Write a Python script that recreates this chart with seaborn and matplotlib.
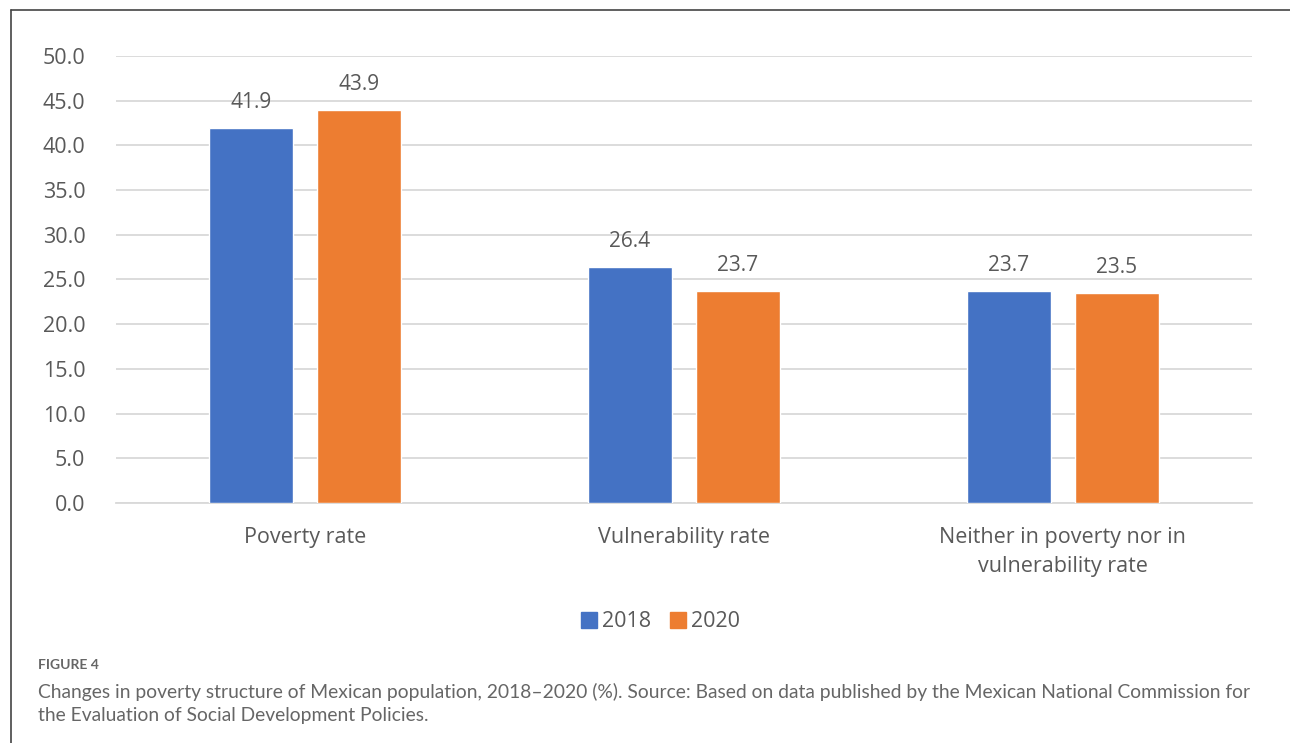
import seaborn as sns
import matplotlib.pyplot as plt
import pandas as pd
from matplotlib.lines import Line2D

categories = ["Poverty rate", "Vulnerability rate", "Neither in poverty nor in\nvulnerability rate"]
years = ["2018", "2020"]
values_2018 = [41.9, 26.4, 23.7]
values_2020 = [43.9, 23.7, 23.5]
yticks = [0, 5, 10, 15, 20, 25, 30, 35, 40, 45, 50]

df = pd.DataFrame({
    "category": categories * 2,
    "year": [years[0]] * 3 + [years[1]] * 3,
    "value": values_2018 + values_2020,
})

sns.set_style("white")
plt.rcParams["font.family"] = ["Open Sans", "DejaVu Sans"]

text_grey = "#595959"
fig = plt.figure(figsize=(12.9, 7.43), dpi=100)
ax = fig.add_axes([0.0899, 0.323, 0.8806, 0.6017])

sns.barplot(data=df, x="category", y="value", hue="year",
            palette=["#4472C4", "#ED7D31"], width=0.57, gap=0.222,
            saturation=1, ax=ax, zorder=3, legend=False)

for c in ax.containers:
    ax.bar_label(c, fmt="%.1f", padding=11, fontsize=15, color=text_grey)

ax.set_ylim(0, 50)
ax.set_xlim(-0.5, 2.5)
ax.set_yticks(yticks)
ax.set_yticklabels([f"{v:.1f}" for v in yticks])
ax.yaxis.grid(True, color="#D9D9D9", linewidth=1.3, zorder=0)
ax.set_xlabel("")
ax.set_ylabel("")
for s in ["top", "right", "left"]:
    ax.spines[s].set_visible(False)
ax.spines["bottom"].set_color("#D9D9D9")
ax.spines["bottom"].set_linewidth(1.3)
ax.tick_params(axis="y", length=0, pad=22, labelsize=15.5, labelcolor=text_grey)
ax.tick_params(axis="x", length=0, pad=17, labelsize=15.5, labelcolor=text_grey)
for lbl in ax.get_xticklabels():
    lbl.set_linespacing(1.55)

handles = [Line2D([0], [0], marker="s", linestyle="", markersize=11,
                  markerfacecolor=col, markeredgecolor=col)
           for col in ["#4472C4", "#ED7D31"]]
fig.legend(handles, years, loc="center", bbox_to_anchor=(0.512, 0.163), ncol=2,
           frameon=False, fontsize=15.5, labelcolor=text_grey,
           handlelength=0.8, handletextpad=0.2, columnspacing=0.85)

# frame around the chart panel (left and top edges)
fig.add_artist(Line2D([0.0085, 0.0085], [0.0, 0.986], color="#444444", lw=1.2))
fig.add_artist(Line2D([0.0085, 1.0], [0.986, 0.986], color="#444444", lw=1.2))

fig.text(0.0295, 0.099, "FIGURE 4", fontsize=10, fontweight="bold",
         color="#666666", family=["Lato", "DejaVu Sans"])
fig.text(0.0295, 0.030,
         "Changes in poverty structure of Mexican population, 2018\u20132020 (%). Source: Based on data published by the Mexican National Commission for\n"
         "the Evaluation of Social Development Policies.",
         fontsize=13.9, color="#666666", linespacing=1.4, family=["Lato", "DejaVu Sans"])

fig.savefig("out.png", dpi=100, facecolor="white")
